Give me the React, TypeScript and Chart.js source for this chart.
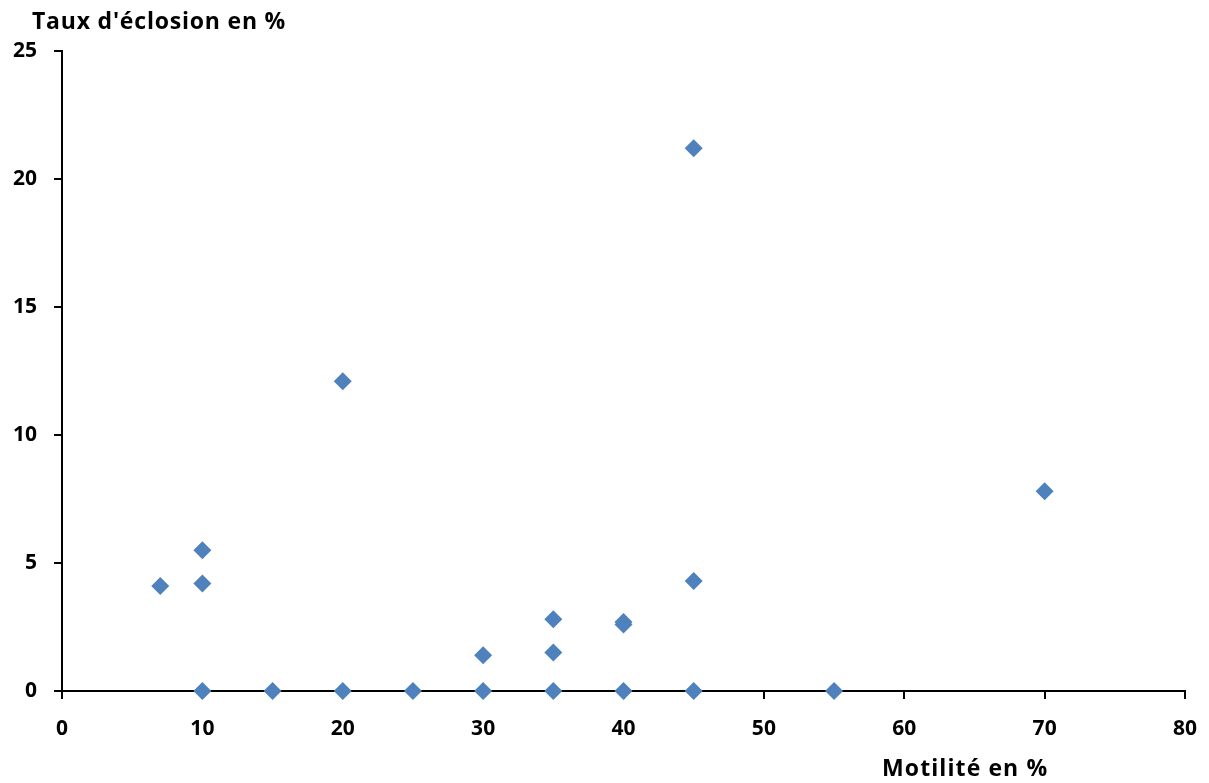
import React, { useEffect, useRef } from "react";
import { Chart, registerables } from "chart.js";

Chart.register(...registerables);

// Motilité en % (x) and Taux d'éclosion en % (y)
const motilite = [7, 10, 10, 10, 15, 20, 20, 25, 30, 30, 35, 35, 35, 40, 40, 40, 45, 45, 45, 55, 70];
const eclosion = [4.1, 5.5, 4.2, 0, 0, 12.1, 0, 0, 1.4, 0, 2.8, 1.5, 0, 2.6, 2.7, 0, 21.2, 4.3, 0, 0, 7.8];

const xMin = 0;
const xMax = 80;
const xStep = 10;
const yMin = 0;
const yMax = 25;
const yStep = 5;

const yTitle = "Taux d'éclosion en %";
const xTitle = "Motilité en %";

const FONT = "'Open Sans', Lato, sans-serif";
const MARKER = "#4F81BD";

export default function App() {
  const ref = useRef<HTMLCanvasElement | null>(null);

  useEffect(() => {
    if (!ref.current) return;
    const titlesPlugin = {
      id: "titles",
      afterDraw(chart: any) {
        const ctx = chart.ctx;
        ctx.save();
        ctx.fillStyle = "#000";
        ctx.font = `bold 23px ${FONT}`;
        ctx.textBaseline = "middle";
        ctx.textAlign = "left";
        ctx.letterSpacing = "0.8px";
        ctx.fillText(yTitle, 32, 22);
        ctx.letterSpacing = "1.1px";
        ctx.fillText(xTitle, 882, 769);
        ctx.restore();
      },
    };

    const chart = new Chart(ref.current, {
      type: "scatter",
      data: {
        datasets: [
          {
            data: motilite.map((x, i) => ({ x, y: eclosion[i] })),
            backgroundColor: MARKER,
            borderColor: MARKER,
            borderWidth: 0,
            pointStyle: "rectRot",
            pointRadius: 9,
            clip: false as any,
          },
        ],
      },
      options: {
        responsive: true,
        maintainAspectRatio: false,
        animation: false,
        layout: { padding: { left: 0, top: 51, right: 24, bottom: 32 } },
        plugins: {
          legend: { display: false },
          tooltip: { enabled: false },
          title: { display: false },
        },
        scales: {
          x: {
            type: "linear",
            min: xMin,
            max: xMax,
            afterFit(scale: any) {
              scale.height = 60;
              scale.paddingLeft = 0;
              scale.paddingRight = 0;
            },
            ticks: {
              stepSize: xStep,
              color: "#000",
              padding: 17,
              font: { family: FONT, size: 21, weight: "bold" },
            },
            grid: {
              display: true,
              drawOnChartArea: false,
              drawTicks: true,
              tickLength: 8,
              color: "#000",
              lineWidth: 2,
            },
            border: { display: true, color: "#000", width: 2 },
          },
          y: {
            type: "linear",
            min: yMin,
            max: yMax,
            afterFit(scale: any) {
              scale.width = 62;
              scale.paddingTop = 0;
              scale.paddingBottom = 0;
            },
            ticks: {
              stepSize: yStep,
              color: "#000",
              padding: 17,
              font: { family: FONT, size: 21, weight: "bold" },
            },
            grid: {
              display: true,
              drawOnChartArea: false,
              drawTicks: true,
              tickLength: 8,
              color: "#000",
              lineWidth: 2,
            },
            border: { display: true, color: "#000", width: 2 },
          },
        },
      },
      plugins: [titlesPlugin],
    });
    return () => chart.destroy();
  }, []);

  return (
    <div style={{ position: "fixed", left: 0, top: 0, width: 1209, height: 783, background: "#fff" }}>
      <canvas ref={ref} />
    </div>
  );
}
